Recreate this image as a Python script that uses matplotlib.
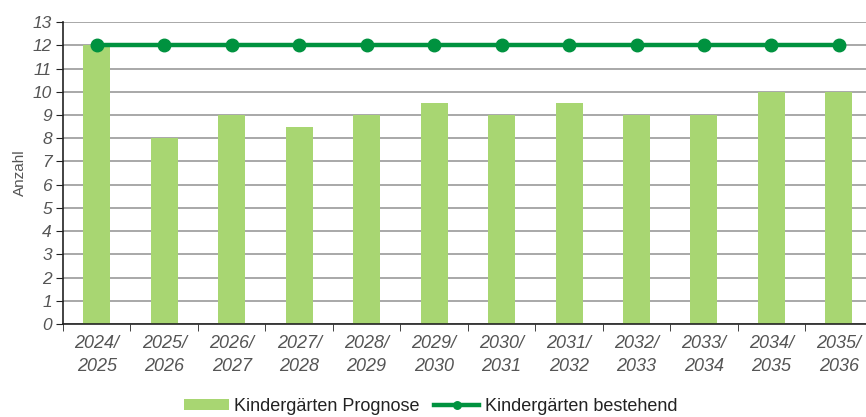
"""Kindergarten forecast vs. existing kindergartens."""

import matplotlib.pyplot as plt
import numpy as np

years = [
    "2024/\n2025", "2025/\n2026", "2026/\n2027", "2027/\n2028",
    "2028/\n2029", "2029/\n2030", "2030/\n2031", "2031/\n2032",
    "2032/\n2033", "2033/\n2034", "2034/\n2035", "2035/\n2036",
]
prognose = [12, 8, 9, 8.5, 9, 9.5, 9, 9.5, 9, 9, 10, 10]
bestehend = [12, 12, 12, 12, 12, 12, 12, 12, 12, 12, 12, 12]

BAR_COLOR = "#a8d672"
LINE_COLOR = "#00923f"
TEXT_COLOR = "#555555"

figure = plt.figure(figsize=(8.66, 4.17), dpi=100)
axis = figure.add_axes([0.0727, 0.223, 0.935, 0.724])

x = np.arange(len(years))
bars = axis.bar(x, prognose, width=0.4, color=BAR_COLOR, zorder=2,
                label="Kindergärten Prognose")
line, = axis.plot(x, bestehend, color=LINE_COLOR, linewidth=3.2, marker="o",
                  markersize=9, zorder=3, label="Kindergärten bestehend")

axis.set_xlim(-0.5, len(years) - 0.5)
axis.set_ylim(0, 13)
axis.set_yticks(range(0, 14))
axis.set_xticks(x)
axis.set_xticklabels(years, linespacing=1.45)
axis.set_xticks(np.arange(-0.5, len(years), 1.0), minor=True)
axis.tick_params(axis="x", which="major", length=0, pad=8)
axis.tick_params(axis="x", which="minor", length=5, color="#222222")
axis.tick_params(axis="y", length=5, color="#222222", pad=3)

for label in axis.get_xticklabels():
    label.set_fontsize(13)
for label in axis.get_yticklabels():
    label.set_fontsize(12.5)
for label in axis.get_xticklabels() + axis.get_yticklabels():
    label.set_fontstyle("italic")
    label.set_color(TEXT_COLOR)
    label.set_family("Liberation Sans")

axis.set_ylabel("Anzahl", color=TEXT_COLOR, fontsize=11,
                family="Liberation Sans", labelpad=4)

axis.grid(True, axis="y", color="#999999", linewidth=1.2, zorder=1)
axis.set_axisbelow(True)
for side in ("top", "right"):
    axis.spines[side].set_visible(False)
for side in ("left", "bottom"):
    axis.spines[side].set_color("#222222")
    axis.spines[side].set_linewidth(1.2)

figure.legend(
    handles=[bars, line],
    loc="lower center",
    bbox_to_anchor=(0.497, -0.034),
    ncol=2,
    frameon=False,
    handlelength=2.5,
    handleheight=0.55,
    columnspacing=0.8,
    handletextpad=0.3,
    markerscale=0.6,
    prop={"family": "Liberation Sans", "size": 13},
    labelcolor="#222222",
)

figure.savefig("out.png", dpi=100)
plt.close(figure)
